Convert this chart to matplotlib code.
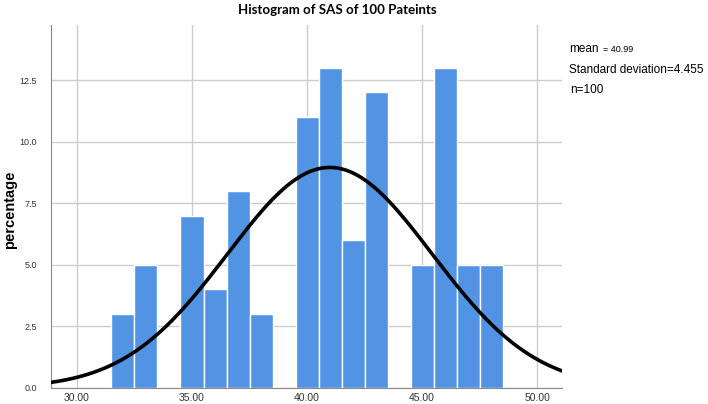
import numpy as np
import matplotlib.pyplot as plt

# SAS score bins (integer centres) and percentage of patients
scores = [32, 33, 34, 35, 36, 37, 38, 39, 40, 41, 42, 43, 44, 45, 46, 47, 48]
percent = [3, 5, 0, 7, 4, 8, 3, 0, 11, 13, 6, 12, 0, 5, 13, 5, 5]

mean = 40.99
sd = 4.455
n = 100

x_ticks = [30, 35, 40, 45, 50]
y_ticks = [0.0, 2.5, 5.0, 7.5, 10.0, 12.5]


def main():
    plt.rcParams["font.family"] = ["Liberation Sans", "DejaVu Sans"]

    fig = plt.figure(figsize=(7.08, 4.04), dpi=100)
    ax = fig.add_axes([0.072, 0.04, 0.722, 0.898])

    ax.bar(scores, percent, width=1.0, color="#5393E3",
           edgecolor="white", linewidth=1.0, zorder=2)

    xs = np.linspace(28.87, 51.09, 300)
    pdf = n / (sd * np.sqrt(2 * np.pi)) * np.exp(-0.5 * ((xs - mean) / sd) ** 2)
    ax.plot(xs, pdf, color="black", linewidth=2.6, zorder=3)

    ax.set_xlim(28.87, 51.09)
    ax.set_ylim(0, 14.74)
    ax.set_xticks(x_ticks)
    ax.set_xticklabels([f"{t:.2f}" for t in x_ticks], fontsize=7.5, color="#333333")
    ax.set_yticks(y_ticks)
    ax.set_yticklabels([f"{t:.1f}" for t in y_ticks], fontsize=6.5, color="#333333")
    ax.tick_params(axis="x", length=0, pad=4)
    ax.tick_params(axis="y", length=0, pad=10)

    ax.grid(True, color="#CCCCCC", linewidth=1.0, zorder=0)
    ax.set_axisbelow(True)
    for side in ["top", "right"]:
        ax.spines[side].set_visible(False)
    ax.spines["left"].set_color("#888888")
    ax.spines["bottom"].set_color("#888888")

    ylab = ax.set_ylabel("percentage", fontsize=10.5, fontweight="bold")
    ylab.set_va("center")
    ax.yaxis.set_label_coords(-0.081, 0.49)
    fig.text(0.476, 0.975, "Histogram of SAS of 100 Pateints",
             ha="center", va="center", fontsize=9.5, fontweight="bold",
             family=["Lato", "DejaVu Sans"])

    fig.text(0.804, 0.878, "mean", fontsize=8.5, va="center")
    fig.text(0.851, 0.878, "= 40.99", fontsize=6.5, va="center")
    fig.text(0.803, 0.826, "Standard deviation=4.455", fontsize=8.5, va="center")
    fig.text(0.806, 0.777, "n=100", fontsize=8.5, va="center")

    fig.savefig("out.png", dpi=100)
    plt.close(fig)


if __name__ == "__main__":
    main()
